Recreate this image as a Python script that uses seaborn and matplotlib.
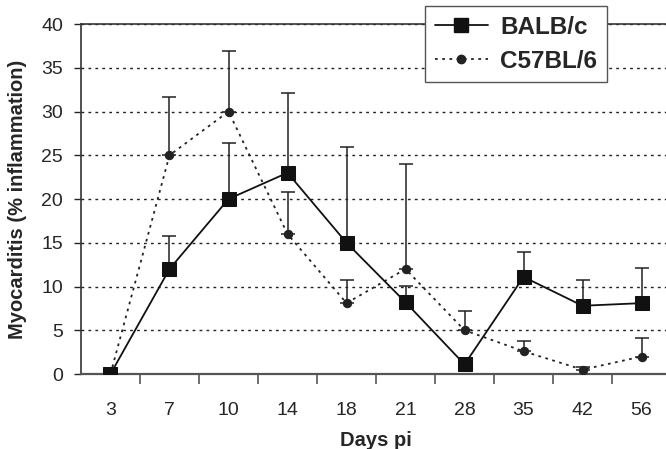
import numpy as np
import pandas as pd
import seaborn as sns
import matplotlib.pyplot as plt
from matplotlib.lines import Line2D

days = ['3', '7', '10', '14', '18', '21', '28', '35', '42', '56']
balb = [0, 12, 20, 23, 15, 8.2, 1.1, 11.1, 7.8, 8.1]
balb_top = [0, 15.8, 26.4, 32.1, 26.0, 10.1, 1.1, 13.9, 10.8, 12.1]
c57 = [0, 25, 30, 16, 8.1, 12, 5, 2.6, 0.5, 2.0]
c57_top = [0, 31.7, 36.9, 20.8, 10.8, 24.0, 7.2, 3.8, 0.8, 4.1]

sns.set_style('ticks')
plt.rcParams['font.family'] = ['Liberation Sans', 'DejaVu Sans']

pos = np.arange(len(days))
df = pd.DataFrame({'pos': np.concatenate([pos, pos]),
                   'val': balb + c57,
                   'strain': ['BALB/c'] * len(days) + ['C57BL/6'] * len(days)})

fig = plt.figure(figsize=(6.66, 4.49), dpi=100)
ax = fig.add_axes([0.1216, 0.167, 0.886, 0.7795])

# upper error bars only
ax.errorbar(pos, balb, yerr=[np.zeros(len(days)), np.array(balb_top) - np.array(balb)],
            fmt='none', ecolor='#222222', elinewidth=1.1, capsize=4.7, capthick=1.1, zorder=2)
ax.errorbar(pos, c57, yerr=[np.zeros(len(days)), np.array(c57_top) - np.array(c57)],
            fmt='none', ecolor='#222222', elinewidth=1.1, capsize=4.7, capthick=1.1, zorder=2)

sns.lineplot(data=df[df.strain == 'C57BL/6'], x='pos', y='val', ax=ax, color='#222222',
             linestyle=(0, (1.5, 2.5)), linewidth=1.3, marker='o', markersize=6,
             markeredgecolor='#222222', zorder=3, legend=False)
sns.lineplot(data=df[df.strain == 'BALB/c'], x='pos', y='val', ax=ax, color='#111111',
             linewidth=1.3, marker='s', markersize=9.5, markeredgecolor='#111111',
             zorder=4, legend=False)

ax.set_ylim(0, 40)
ax.set_xlim(-0.5, 9.42)
ax.set_yticks(range(0, 41, 5))
ax.yaxis.grid(True, color='#222222', linestyle=(0, (2, 3)), linewidth=1)
ax.set_axisbelow(True)

ax.set_xticks(pos + 0.5, minor=False)
ax.set_xticklabels([])
ax.set_xticks(pos, minor=True)
ax.set_xticklabels(days, minor=True)
ax.tick_params(axis='x', which='major', direction='out', length=7, width=1.2, color='#555555')
ax.tick_params(axis='x', which='minor', length=0, labelsize=14, pad=20)
ax.tick_params(axis='y', direction='out', length=5, width=1, labelsize=14, pad=8)

for s in ['left', 'top']:
    ax.spines[s].set_color('#333333')
    ax.spines[s].set_linewidth(1.2)
ax.spines['bottom'].set_color('#555555')
ax.spines['bottom'].set_linewidth(1.6)
ax.spines['right'].set_visible(False)

ax.set_xlabel('Days pi', fontsize=14.5, fontweight='bold', labelpad=9)
ax.set_ylabel('Myocarditis (% inflammation)', fontsize=14.5, fontweight='bold', labelpad=10)

handles = [Line2D([], [], color='#111111', lw=1.3, marker='s', markersize=9.5),
           Line2D([], [], color='#222222', lw=1.3, linestyle=(0, (1.5, 2.5)), marker='o', markersize=6)]
leg = ax.legend(handles, ['BALB/c', 'C57BL/6'], loc='upper left', bbox_to_anchor=(0.638, 0.9866),
                bbox_transform=fig.transFigure, prop={'weight': 'bold', 'size': 17.5},
                frameon=True, fancybox=False, framealpha=1, edgecolor='#555555',
                handlelength=2.2, handletextpad=0.5, labelspacing=0.45, borderpad=0.4,
                borderaxespad=0)
leg.get_frame().set_linewidth(1)
leg.set_zorder(10)

fig.savefig('out.png', dpi=100)
